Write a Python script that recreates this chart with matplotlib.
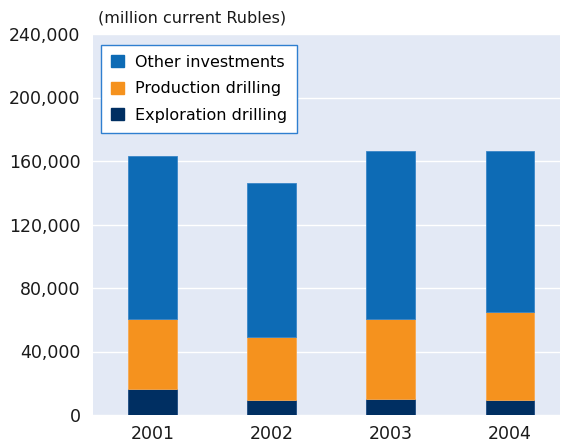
import matplotlib.pyplot as plt
from matplotlib.patches import Patch

years = ['2001', '2002', '2003', '2004']
exploration = [16500, 9200, 10200, 9200]
production = [43800, 39800, 50100, 55500]
other = [102800, 97100, 105900, 101500]
yticks = [0, 40000, 80000, 120000, 160000, 200000, 240000]

c_other = '#0d6bb5'
c_prod = '#f5921e'
c_expl = '#002f62'

plt.rcParams['font.family'] = ['DejaVu Sans']

fig = plt.figure(figsize=(5.65, 4.43), dpi=100)
ax = fig.add_axes([93/565, 1 - 415/443, (560-93)/565, (415-34)/443])
ax.set_facecolor('#e3e9f5')

x = list(range(len(years)))
bottom2 = [e + p for e, p in zip(exploration, production)]
ax.bar(x, exploration, width=0.41, color=c_expl, edgecolor='#1c4a80', linewidth=0.6, zorder=3)
ax.bar(x, production, width=0.41, bottom=exploration, color=c_prod, edgecolor='#f7a850', linewidth=0.6, zorder=3)
ax.bar(x, other, width=0.41, bottom=bottom2, color=c_other, edgecolor='#3a86c8', linewidth=0.6, zorder=3)

ax.set_ylim(0, 240000)
ax.set_xlim(-0.5, 3.42)
ax.set_yticks(yticks)
ax.set_yticklabels(['{:,}'.format(v) for v in yticks])
ax.set_xticks(x)
ax.set_xticklabels(years)
ax.grid(axis='y', color='white', linewidth=1.0, zorder=1)
for s in ax.spines.values():
    s.set_visible(False)
ax.tick_params(length=0, labelsize=12.5, colors='#1a1a1a')
ax.tick_params(axis='y', pad=9)
ax.tick_params(axis='x', pad=7)

fig.text(98/565, 1 - 18/443, '(million current Rubles)', fontsize=11.5, va='center', ha='left', color='#1a1a1a')

handles = [Patch(color=c_other, label='Other investments'),
           Patch(color=c_prod, label='Production drilling'),
           Patch(color=c_expl, label='Exploration drilling')]
leg = ax.legend(handles=handles, loc='upper left', bbox_to_anchor=(8/467, 1 - 11/381),
                fontsize=11.5, frameon=True, fancybox=False, borderaxespad=0,
                handlelength=0.8, handleheight=0.8, handletextpad=0.7,
                labelspacing=0.72, borderpad=0.62)
leg.get_frame().set_edgecolor('#2f7fd0')
leg.get_frame().set_linewidth(1.0)
leg.get_frame().set_facecolor('white')
leg.get_frame().set_alpha(1)

fig.savefig('out.png', dpi=100)
